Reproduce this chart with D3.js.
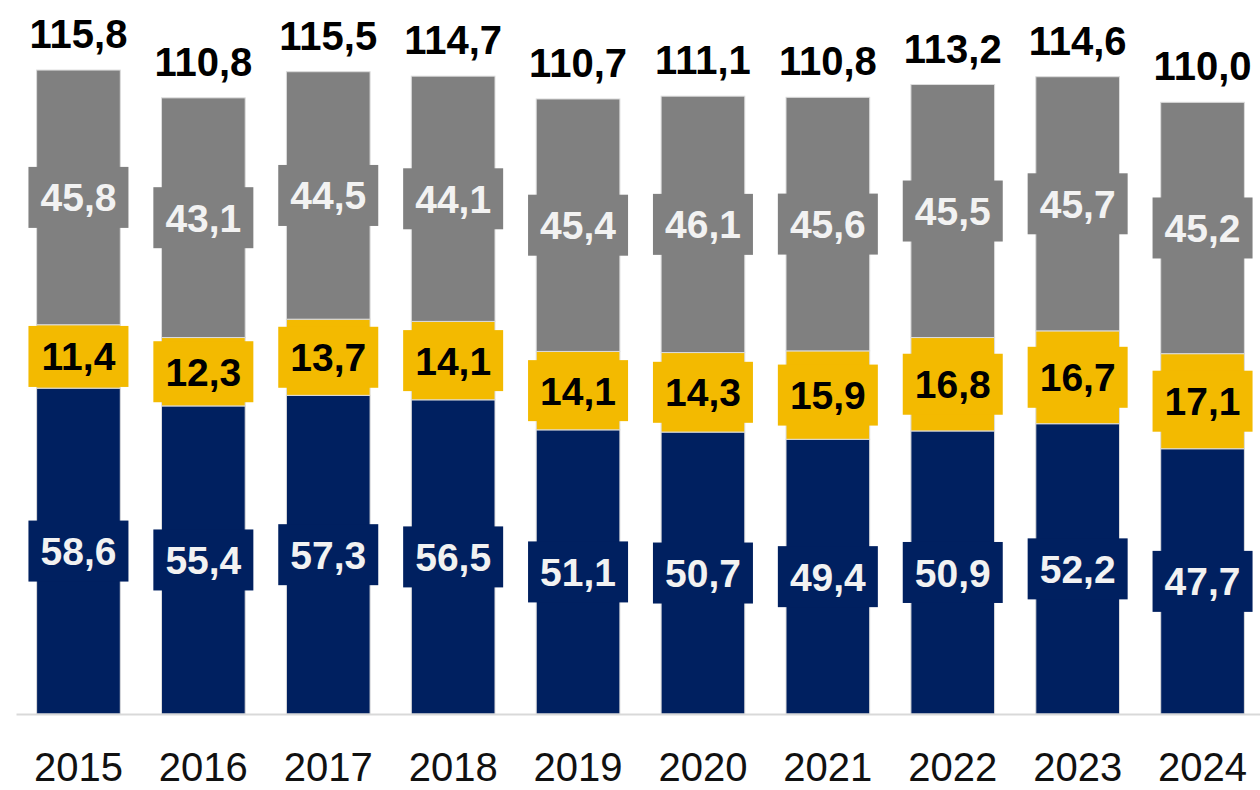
<!DOCTYPE html>
<html>
<head>
<meta charset="utf-8">
<script src="https://cdn.jsdelivr.net/npm/d3@7"></script>
<style>
  body { margin: 0; background: #fff; }
  svg { display: block; }
</style>
</head>
<body>
<div id="chart"></div>
<script>
// data
var years  = ["2015", "2016", "2017", "2018", "2019", "2020", "2021", "2022", "2023", "2024"]
var blue   = [58.6, 55.4, 57.3, 56.5, 51.1, 50.7, 49.4, 50.9, 52.2, 47.7]
var yellow = [11.4, 12.3, 13.7, 14.1, 14.1, 14.3, 15.9, 16.8, 16.7, 17.1]
var grey   = [45.8, 43.1, 44.5, 44.1, 45.4, 46.1, 45.6, 45.5, 45.7, 45.2]
var totals = [115.8, 110.8, 115.5, 114.7, 110.7, 111.1, 110.8, 113.2, 114.6, 110.0]

var width = 1260
var height = 790

var svg = d3.select("#chart")
  .append("svg")
  .attr("width", width)
  .attr("height", height)

// comma as decimal separator
var fmt = d3.formatLocale({decimal: ",", thousands: ".", grouping: [3], currency: ["", ""]}).format(".1f")

var rows = years.map(function(y, i) {
  return {year: y, blue: blue[i], yellow: yellow[i], grey: grey[i], total: totals[i]}
})

var keys = ["blue", "yellow", "grey"]
var fill = {blue: "#002060", yellow: "#F3BA00", grey: "#808080"}
var textColor = {blue: "#F2F2F2", yellow: "#000000", grey: "#F2F2F2"}

var x = d3.scaleBand()
  .domain(years)
  .range([16, 1265])
  .paddingInner(0.33)
  .paddingOuter(0.165)

var y = d3.scaleLinear()
  .domain([0, 120])
  .range([714, 46.7])

var series = d3.stack().keys(keys)(rows)

// bars
var layer = svg.selectAll("g.layer")
  .data(series)
  .enter()
  .append("g")
  .attr("class", "layer")
  .attr("fill", function(d) { return fill[d.key] })

layer.selectAll("rect")
  .data(function(d) { return d })
  .enter()
  .append("rect")
  .attr("x", function(d) { return x(d.data.year) })
  .attr("width", x.bandwidth())
  .attr("y", function(d) { return y(d[1]) })
  .attr("height", function(d) { return y(d[0]) - y(d[1]) })
  .attr("stroke", "#dcdcdc")
  .attr("stroke-width", 1)

// axis
var axis = svg.append("g")
  .attr("transform", "translate(0,714)")
  .call(d3.axisBottom(x).tickSize(0).tickSizeOuter(0))

axis.select(".domain")
  .attr("stroke", "#d9d9d9")
  .attr("stroke-width", 2)

axis.selectAll("text")
  .attr("y", 67)
  .attr("dy", 0)
  .attr("fill", "#111")
  .style("font-family", "'Liberation Sans', Arial, sans-serif")
  .style("font-size", "40px")

// segment labels with boxes
var boxW = 100, boxH = 61

var labels = layer.selectAll("g.lab")
  .data(function(d) { return d.map(function(p) { p.key = d.key; return p }) })
  .enter()
  .append("g")
  .attr("class", "lab")
  .attr("transform", function(d) {
    var cx = x(d.data.year) + x.bandwidth() / 2
    var cy = (y(d[0]) + y(d[1])) / 2
    return "translate(" + cx + "," + cy + ")"
  })

labels.append("rect")
  .attr("x", -boxW / 2)
  .attr("y", -boxH / 2)
  .attr("width", boxW)
  .attr("height", boxH)
  .attr("fill", function(d) { return fill[d.key] })

labels.append("text")
  .attr("text-anchor", "middle")
  .attr("dy", "0.36em")
  .attr("fill", function(d) { return textColor[d.key] })
  .style("font-family", "'Liberation Sans', Arial, sans-serif")
  .style("font-weight", "bold")
  .style("font-size", "39px")
  .text(function(d) { return fmt(d[1] - d[0]) })

// totals on top
var topLayer = series[series.length - 1]
svg.selectAll("text.total")
  .data(topLayer)
  .enter()
  .append("text")
  .attr("class", "total")
  .attr("x", function(d) { return x(d.data.year) + x.bandwidth() / 2 })
  .attr("y", function(d) { return y(d[1]) - 22 })
  .attr("text-anchor", "middle")
  .attr("fill", "#000")
  .style("font-family", "'Liberation Sans', Arial, sans-serif")
  .style("font-weight", "bold")
  .style("font-size", "40px")
  .text(function(d) { return fmt(d.data.total) })
</script>
</body>
</html>
